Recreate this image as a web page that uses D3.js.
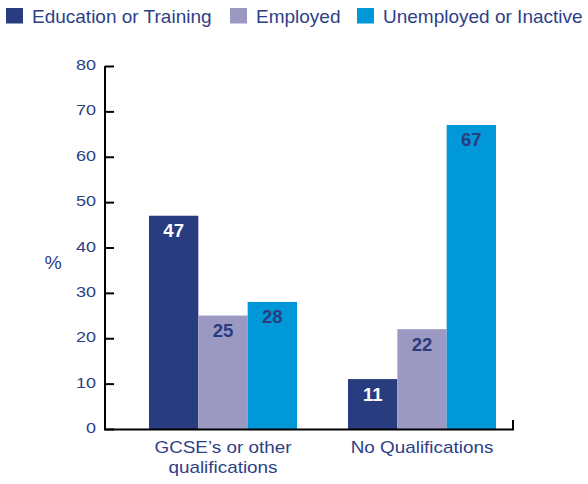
<!DOCTYPE html>
<html><head><meta charset="utf-8">
<script src="https://cdn.jsdelivr.net/npm/d3@7"></script>
<style>body{margin:0;background:#fff}svg{display:block;font-family:"Liberation Sans",Arial,sans-serif}</style>
</head><body>
<svg id="c" width="588" height="484"></svg>
<script>
const categories = [["GCSE\u2019s or other","qualifications"],["No Qualifications"]];
const seriesNames = ["Education or Training","Employed","Unemployed or Inactive"];
const educationTraining = [47, 11];
const employed = [25, 22];
const unemployedInactive = [28, 67];
const yTicks = [0,10,20,30,40,50,60,70,80];
const colors = ["#2a3c80","#9b99c2","#0098d8"];
const labelColors = ["#ffffff","#2a3c80","#2a3c80"];
const textColor = "#2e3f87";

const series = [educationTraining, employed, unemployedInactive];
const svg = d3.select("#c");
const y = d3.scaleLinear().domain([0,80]).range([429,66]);
const x0 = d3.scaleBand().domain(d3.range(categories.length)).range([123.5,521.5]).paddingInner(0.2563).paddingOuter(0.128);
const x1 = d3.scaleBand().domain(d3.range(series.length)).range([0,x0.bandwidth()]);

function txt(x, yy, s, size, sx, anchor, fill, weight){
  return svg.append("text").attr("transform",`translate(${x},${yy}) scale(${sx},1)`)
    .attr("text-anchor",anchor).attr("font-size",size).attr("fill",fill)
    .attr("font-weight",weight||"normal").text(s);
}

// legend
const legX = [6,230,357];
seriesNames.forEach((n,i)=>{
  svg.append("rect").attr("x",legX[i]).attr("y",8).attr("width",17).attr("height",15.5).attr("fill",colors[i]);
  txt(legX[i]+26, 22.5, n, 19, 1, "start", textColor);
});

// bars
series.forEach((vals,si)=>{
  vals.forEach((v,ci)=>{
    const bx = x0(ci)+x1(si);
    svg.append("rect").attr("x",bx).attr("y",y(v)).attr("width",x1.bandwidth()).attr("height",y(0)-y(v)).attr("fill",colors[si]);
    txt(bx+x1.bandwidth()/2, y(v)+21.5, v, 17.5, 1.06, "middle", labelColors[si], "bold");
  });
});

// y axis
const ax = svg.append("g").attr("transform","translate(105,0)")
  .call(d3.axisRight(y).tickValues(yTicks).tickSize(9).tickFormat(""));
ax.select(".domain").remove();
ax.selectAll(".tick line").attr("stroke","#000").attr("stroke-width",2);
svg.append("line").attr("x1",105).attr("x2",105).attr("y1",66).attr("y2",430).attr("stroke","#000").attr("stroke-width",2);
yTicks.forEach(t=>{
  txt(96, y(t)+4, t, 15, 1.2, "end", textColor);
});
txt(53, 269, "%", 18.5, 1.05, "middle", textColor);

// x axis
svg.append("line").attr("x1",104).attr("x2",514).attr("y1",429.5).attr("y2",429.5).attr("stroke","#000").attr("stroke-width",2);
svg.append("line").attr("x1",513).attr("x2",513).attr("y1",420).attr("y2",430).attr("stroke","#000").attr("stroke-width",2);

categories.forEach((lines,ci)=>{
  const cx = x0(ci)+x0.bandwidth()/2;
  lines.forEach((l,li)=>{
    txt(cx, 453+li*19.5, l, 16, 1.18, "middle", textColor);
  });
});
</script>
</body></html>
